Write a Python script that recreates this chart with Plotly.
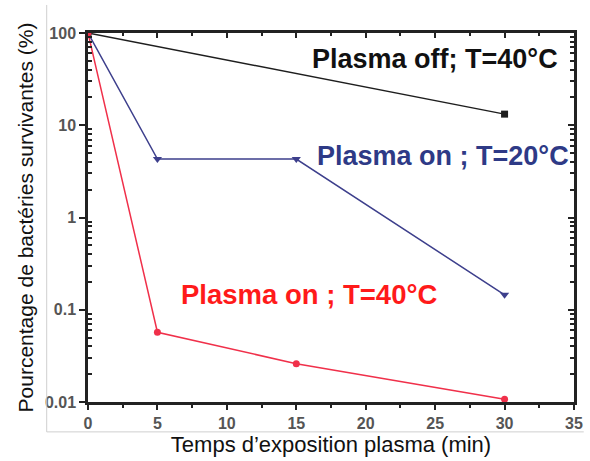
import plotly.graph_objects as go

time_off = [0, 30]
pct_off = [100, 13.2]
time_on20 = [0, 5, 15, 30]
pct_on20 = [100, 4.3, 4.3, 0.145]
time_on40 = [0, 5, 15, 30]
pct_on40 = [100, 0.057, 0.026, 0.0107]

x_ticks = [0, 5, 10, 15, 20, 25, 30, 35]
x_ticktext = ["0", "5", "10", "15", "20", "25", "30", "35"]
y_ticks = [0.01, 0.1, 1, 10, 100]
y_ticktext = ["0.01", "0.1", "1", "10", "100"]
y_minor = [m * d for d in [0.01, 0.1, 1, 10] for m in range(2, 10)]

labels = ["Plasma off; T=40°C", "Plasma on ; T=20°C", "Plasma on ; T=40°C"]

c_off = "#1e1e1e"
c_20 = "#3d3f8c"
c_40 = "#f0304a"

fig = go.Figure()
fig.add_trace(go.Scatter(x=time_off, y=pct_off, mode="lines+markers",
                         line=dict(color=c_off, width=1.5),
                         marker=dict(symbol="square", size=7, color=c_off)))
fig.add_trace(go.Scatter(x=time_on20, y=pct_on20, mode="lines+markers",
                         line=dict(color=c_20, width=1.5),
                         marker=dict(symbol="triangle-down", size=8, color=c_20)))
fig.add_trace(go.Scatter(x=time_on40, y=pct_on40, mode="lines+markers",
                         line=dict(color=c_40, width=1.5),
                         marker=dict(symbol="circle", size=7, color=c_40)))
# invisible trace to activate mirrored axes with inward ticks
fig.add_trace(go.Scatter(x=[time_off[0]], y=[pct_off[0]], xaxis="x2", yaxis="y2",
                         mode="markers", marker=dict(opacity=0), hoverinfo="skip"))

tickfont = dict(family="Liberation Sans, Arial", size=16, color="#555")

fig.update_layout(
    width=590, height=461,
    margin=dict(l=88, r=7, t=33, b=59),
    paper_bgcolor="white", plot_bgcolor="white",
    showlegend=False,
    font=dict(family="Liberation Sans, Arial"),
    xaxis=dict(range=[0, 35], tickvals=x_ticks,
               ticktext=["<b>" + t + "</b>" for t in x_ticktext],
               ticks="outside", ticklen=5,
               tickwidth=2, tickcolor="#222", showline=True, linecolor="#222",
               linewidth=2.5, mirror=True, showgrid=False, zeroline=False,
               tickfont=tickfont,
               minor=dict(dtick=2.5, ticks="outside", ticklen=3, tickwidth=1.5, tickcolor="#222"),
               title=dict(text="Temps d’exposition plasma (min)",
                          font=dict(size=22, color="#111"), standoff=6)),
    yaxis=dict(type="log", range=[-2, 2], tickvals=y_ticks,
               ticktext=["<b>" + t + "</b>" for t in y_ticktext],
               ticks="outside", ticklen=6, tickwidth=2, tickcolor="#222",
               showline=True, linecolor="#222", linewidth=2.5, mirror=True,
               showgrid=False, zeroline=False, tickfont=tickfont,
               minor=dict(tickvals=y_minor, ticks="inside", ticklen=4, tickwidth=1.5,
                          tickcolor="#222", showgrid=False),
               title=dict(text="Pourcentage de bactéries survivantes (%)",
                          font=dict(size=21, color="#111"), standoff=6)),
    xaxis2=dict(overlaying="x", side="top", range=[0, 35], tickvals=x_ticks,
                ticks="inside", ticklen=5, tickwidth=2, tickcolor="#222",
                showticklabels=False, showgrid=False, zeroline=False, showline=False,
                minor=dict(dtick=2.5, ticks="inside", ticklen=3, tickwidth=1.5, tickcolor="#222")),
    yaxis2=dict(overlaying="y", side="right", type="log", range=[-2, 2], tickvals=y_ticks,
                ticks="inside", ticklen=6, tickwidth=2, tickcolor="#222",
                showticklabels=False, showgrid=False, zeroline=False, showline=False,
                minor=dict(tickvals=y_minor, ticks="inside", ticklen=4, tickwidth=1.5,
                           tickcolor="#222", showgrid=False)),
)

# light grey frame of the original figure
fig.add_shape(type="line", xref="paper", yref="paper", x0=-0.085, x1=-0.085,
              y0=-0.081, y1=1.076, line=dict(color="#cfcfcf", width=1))
fig.add_shape(type="line", xref="paper", yref="paper", x0=-0.085, x1=1.02,
              y0=-0.081, y1=-0.081, line=dict(color="#cfcfcf", width=1))

fig.add_annotation(x=25.0, y=1.717, text=labels[0], showarrow=False,
                   font=dict(size=27, color="#111", family="Liberation Sans, Arial"))
fig.add_annotation(x=25.6, y=0.663, text=labels[1], showarrow=False,
                   font=dict(size=27, color="#2e3a86", family="Liberation Sans, Arial"))
fig.add_annotation(x=15.9, y=-0.837, text=labels[2], showarrow=False,
                   font=dict(size=27.5, color="#ff1a1a", family="Liberation Sans, Arial"))
for a in fig.layout.annotations:
    a.text = "<b>" + a.text + "</b>"

fig.write_html("out.html")
